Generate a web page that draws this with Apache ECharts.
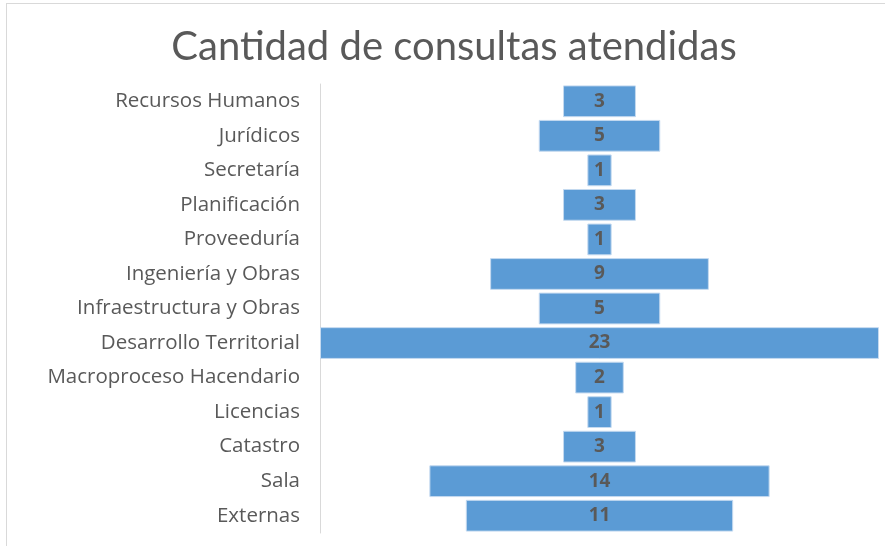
<!DOCTYPE html>
<html>
<head>
<meta charset="utf-8">
<script src="https://cdn.jsdelivr.net/npm/echarts@6/dist/echarts.min.js"></script>
<style>
  html,body{margin:0;padding:0;background:#fff;}
  #frame{position:absolute;left:6px;top:3px;width:900px;height:600px;border:1px solid #d9d9d9;}
  #chart{position:absolute;left:0;top:0;width:885px;height:546px;}
</style>
</head>
<body>
<div id="frame"></div>
<div id="chart"></div>
<script>
var categories = ['Recursos Humanos','Jurídicos','Secretaría','Planificación','Proveeduría',
  'Ingeniería y Obras','Infraestructura y Obras','Desarrollo Territorial','Macroproceso Hacendario',
  'Licencias','Catastro','Sala','Externas'];
var consultas = [3,5,1,3,1,9,5,23,2,1,3,14,11];
var maxValue = 23;

// relleno invisible para centrar cada barra (efecto embudo)
var relleno = consultas.map(function(v){ return (maxValue - v) / 2; });

var chart = echarts.init(document.getElementById('chart'));
chart.setOption({
  animation:false,
  title:{
    text:'Cantidad de consultas atendidas',
    left:449, top:22, textAlign:'center',
    textStyle:{fontFamily:'Lato', fontSize:40, fontWeight:'normal', color:'#595959'}
  },
  grid:{left:320, right:6, top:84, bottom:13},
  xAxis:{type:'value', min:0, max:maxValue, show:false},
  yAxis:{
    type:'category', data:categories, inverse:true,
    axisLine:{show:true, lineStyle:{color:'#d9d9d9', width:1}},
    axisTick:{show:false},
    axisLabel:{fontFamily:'Open Sans', fontSize:20.5, color:'#595959', margin:20}
  },
  series:[
    {type:'bar', stack:'a', data:relleno, itemStyle:{color:'transparent'}, silent:true, barCategoryGap:'8%'},
    {type:'bar', stack:'a', data:consultas, barCategoryGap:'8%',
      itemStyle:{color:'#5B9BD5', borderColor:'#c5daf0', borderWidth:1},
      label:{show:true, position:'inside', fontFamily:'Open Sans', fontSize:19, fontWeight:'bold', color:'#595959'}}
  ]
});
</script>
</body>
</html>
